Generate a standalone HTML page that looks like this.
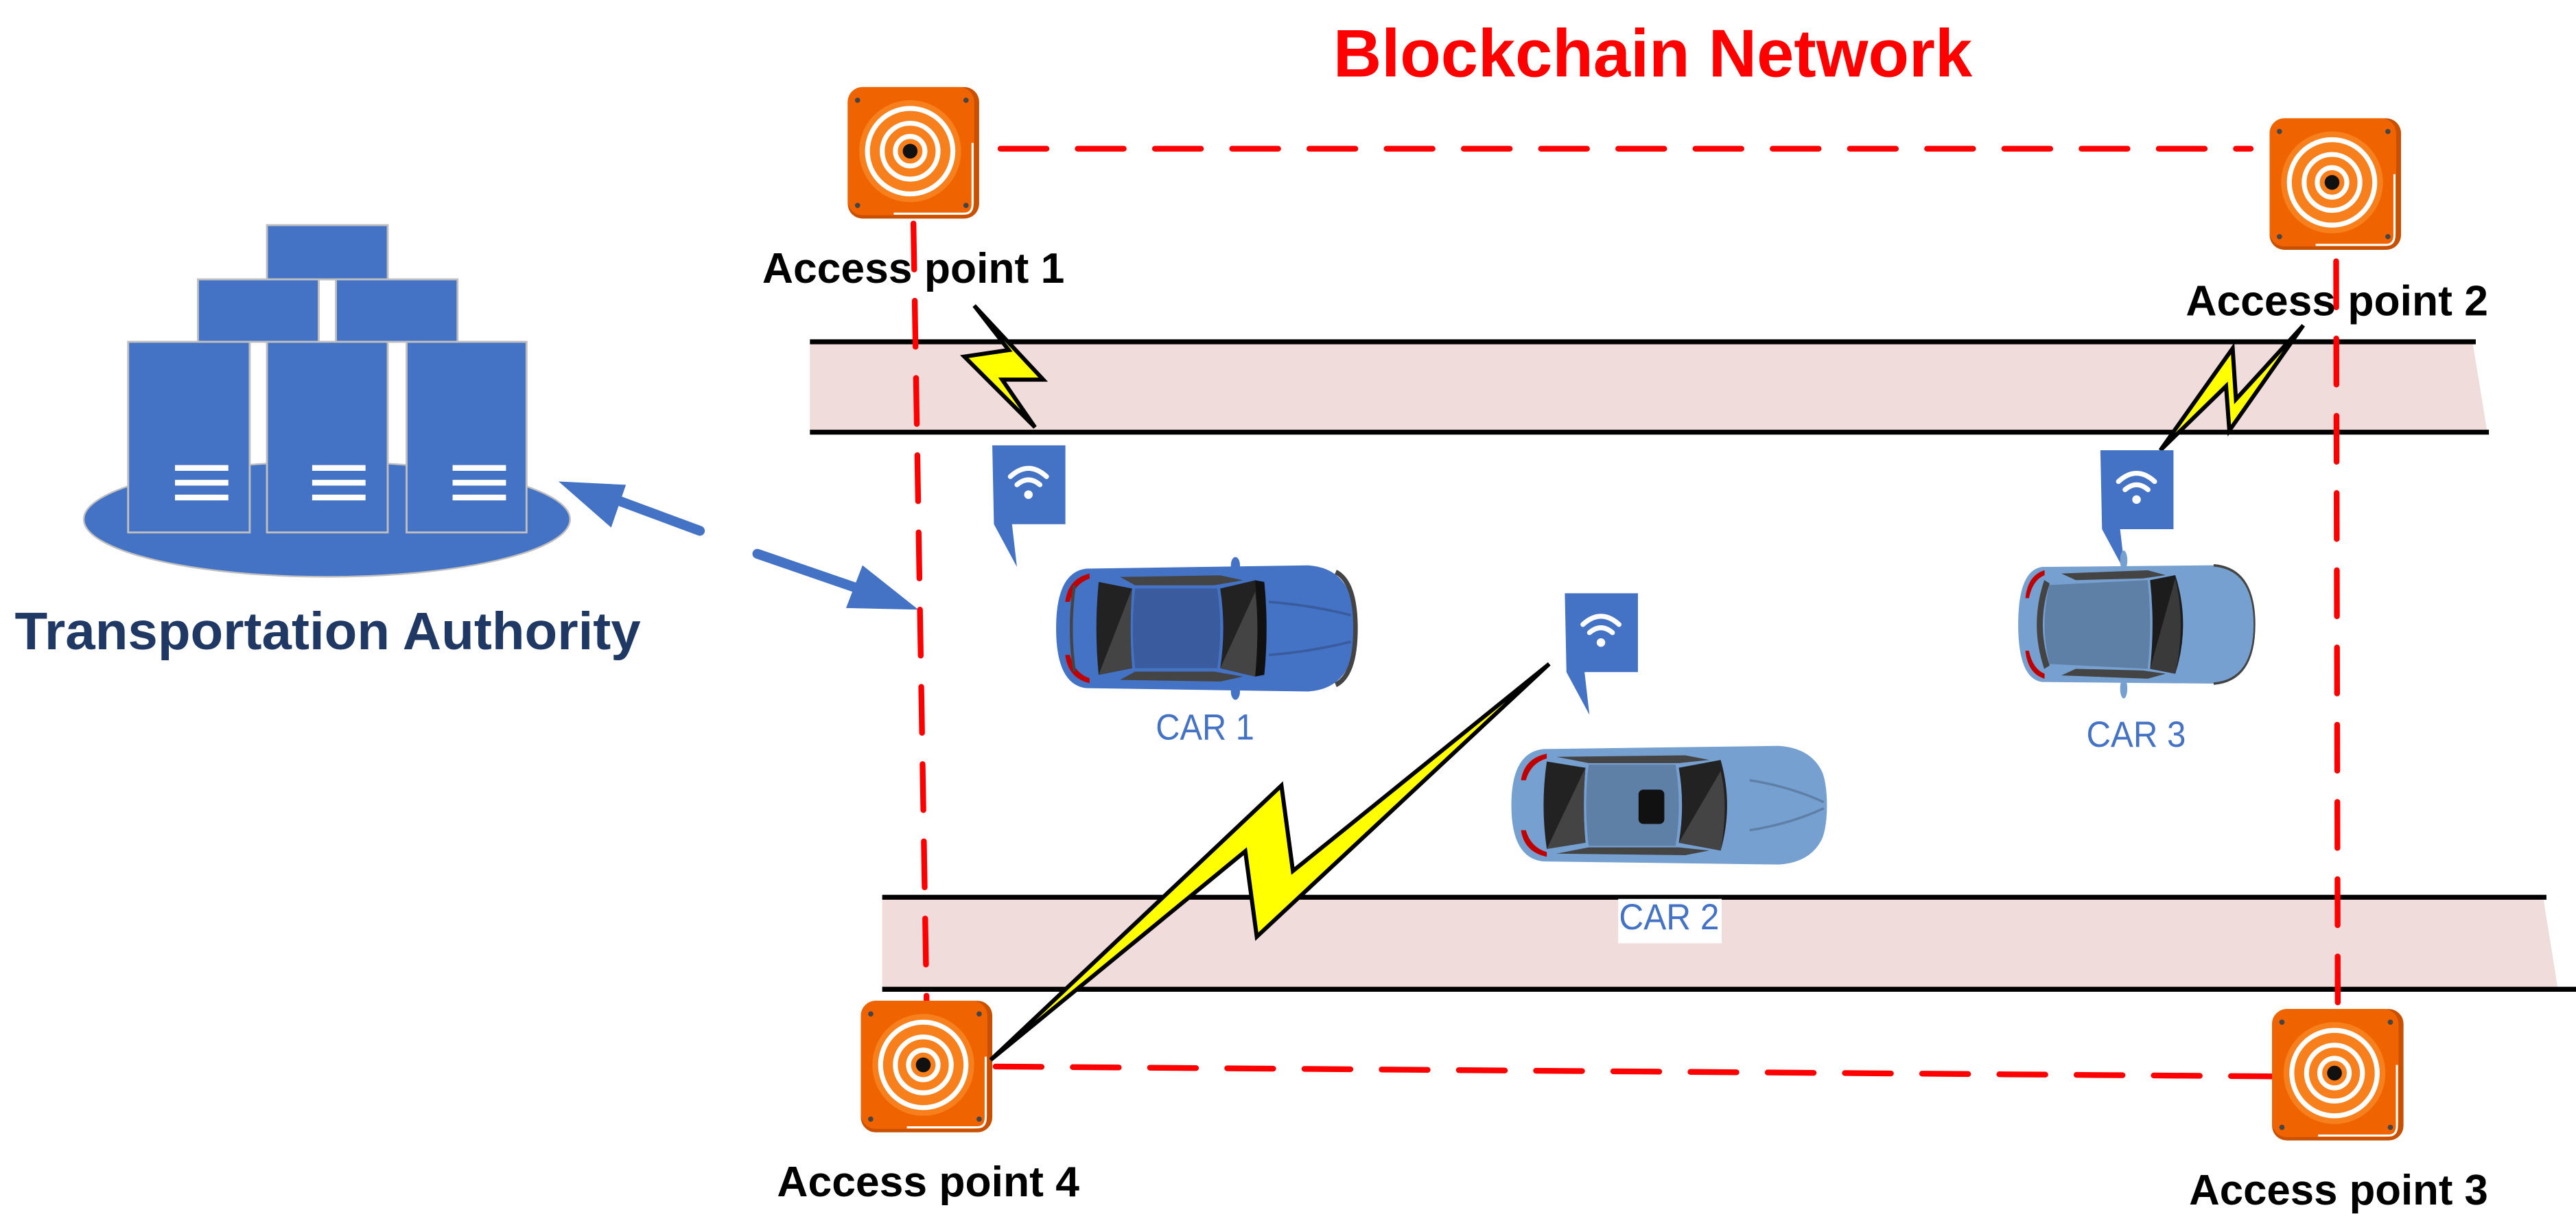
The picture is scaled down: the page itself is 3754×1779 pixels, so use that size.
<!DOCTYPE html>
<html><head><meta charset="utf-8"><style>
html,body{margin:0;padding:0;background:#fff;}
svg{display:block;}
text{font-family:"Liberation Sans",sans-serif;}
</style></head><body>
<svg width="3754" height="1779" viewBox="0 0 1568 743" preserveAspectRatio="none" xmlns="http://www.w3.org/2000/svg">
<!-- roads -->
<polygon points="493,208 1505,208 1514,263 493,263" fill="#f0dcdb"/>
<line x1="493" y1="208" x2="1507" y2="208" stroke="#000" stroke-width="3"/>
<line x1="493" y1="263" x2="1515" y2="263" stroke="#000" stroke-width="3"/>
<polygon points="537,546 1548,546 1557,602 537,602" fill="#f0dcdb"/>
<line x1="537" y1="546" x2="1550" y2="546" stroke="#000" stroke-width="3"/>
<line x1="537" y1="602" x2="1568" y2="602" stroke="#000" stroke-width="3"/>

<!-- red dashed network -->
<g stroke="#ff0000" stroke-width="3.5" stroke-linecap="round" stroke-dasharray="28,19" fill="none">
<line x1="609" y1="90.5" x2="1370" y2="90.5"/>
<line x1="556" y1="136" x2="564" y2="609"/>
<line x1="1422" y1="159" x2="1423" y2="614"/>
<line x1="606" y1="649" x2="1383" y2="655"/>
</g>

<!-- server cluster -->
<ellipse cx="199" cy="316" rx="148" ry="35" fill="#4472c4" stroke="#bfbfbf" stroke-width="1"/>
<g fill="#4472c4" stroke="#bfbfbf" stroke-width="1.2">
<rect x="162.5" y="137" width="73.5" height="33"/>
<rect x="120.5" y="170" width="73.5" height="38"/>
<rect x="204.5" y="170" width="74" height="38"/>
<rect x="78" y="208" width="74" height="116"/>
<rect x="162.5" y="208" width="73.5" height="116"/>
<rect x="247.5" y="208" width="73" height="116"/>
</g>
<g fill="#fff">
<rect x="106.5" y="283" width="32.5" height="3.5"/><rect x="106.5" y="292" width="32.5" height="3.5"/><rect x="106.5" y="301" width="32.5" height="3.5"/>
<rect x="190" y="283" width="32.5" height="3.5"/><rect x="190" y="292" width="32.5" height="3.5"/><rect x="190" y="301" width="32.5" height="3.5"/>
<rect x="275.5" y="283" width="32.5" height="3.5"/><rect x="275.5" y="292" width="32.5" height="3.5"/><rect x="275.5" y="301" width="32.5" height="3.5"/>
</g>
<text x="9" y="395" font-size="32" font-weight="bold" fill="#1f3864" textLength="381" lengthAdjust="spacingAndGlyphs">Transportation Authority</text>

<!-- arrows -->
<g stroke="#4472c4" stroke-width="6" stroke-linecap="round">
<line x1="426" y1="323" x2="372" y2="303"/>
<line x1="461" y1="337" x2="522" y2="358"/>
</g>
<polygon points="340,293 381,295 372,321" fill="#4472c4"/>
<polygon points="559,371 525,344 515,370" fill="#4472c4"/>

<!-- AP icons -->
<g id="ap1" transform="translate(516,53)">
<rect x="0" y="0" width="80" height="80" rx="9" fill="#c85000"/>
<rect x="0" y="0" width="77" height="78" rx="9" fill="#ef6400"/>
<circle cx="38" cy="39" r="31" fill="#f8801c"/>
<circle cx="38" cy="39" r="26" fill="none" stroke="#fff" stroke-width="3"/>
<circle cx="38" cy="39" r="17" fill="none" stroke="#fff" stroke-width="3"/>
<circle cx="38" cy="39" r="9" fill="none" stroke="#fff" stroke-width="3"/>
<circle cx="38" cy="39" r="4.5" fill="#111"/>
<circle cx="6" cy="8" r="1.6" fill="#444"/><circle cx="72" cy="8" r="1.6" fill="#444"/>
<circle cx="6" cy="72" r="1.6" fill="#444"/><circle cx="72" cy="72" r="1.6" fill="#444"/>
<path d="M28,77 L71,77 Q76,77 76,71 L76,34" fill="none" stroke="#fff" stroke-width="1.3"/>
</g>
<use href="#ap1" transform="translate(8,556)"/>
<use href="#ap1" transform="translate(865.5,19)"/>
<use href="#ap1" transform="translate(867,561)"/>

<text x="464" y="172" font-size="26" font-weight="bold" fill="#000" textLength="184" lengthAdjust="spacingAndGlyphs">Access point 1</text>
<text x="1330.5" y="192" font-size="26" font-weight="bold" fill="#000" textLength="184" lengthAdjust="spacingAndGlyphs">Access point 2</text>
<text x="1332.5" y="733" font-size="26" font-weight="bold" fill="#000" textLength="182" lengthAdjust="spacingAndGlyphs">Access point 3</text>
<text x="473" y="728" font-size="26" font-weight="bold" fill="#000" textLength="184" lengthAdjust="spacingAndGlyphs">Access point 4</text>
<text x="811.5" y="46.5" font-size="41" font-weight="bold" fill="#ff0000" textLength="389" lengthAdjust="spacingAndGlyphs">Blockchain Network</text>

<!-- lightning bolts -->
<g stroke="#000" stroke-width="2.5" stroke-linejoin="miter">
<polygon points="593,186 614,213 587,217 630,260 610,231 635,231" fill="#ffff00"/>
<polygon points="1315,274 1359,212 1361,243 1402,198 1357,262 1355,235" fill="#ffff00"/>
<polygon points="603,645 780,478 787,530 943,404 765,570 758,518" fill="#ffff00"/>
</g>

<!-- wifi bubbles -->
<g id="wb1">
<path d="M604,271 H648.5 V319 H616 L619,345 L605,319 Z" fill="#4472c4"/>
<g fill="none" stroke="#fff" stroke-width="3" stroke-linecap="round">
<path d="M615,290 Q626,280 637,290"/>
<path d="M619,295 Q626,289 633,295"/>
</g>
<circle cx="626" cy="301" r="2.6" fill="#fff"/>
</g>
<use href="#wb1" transform="translate(348.5,90)"/>
<use href="#wb1" transform="translate(674.5,3)"/>

<!-- car template -->
<g id="car1" transform="translate(641,342) scale(0.925,1.01)">
<path d="M22,4 L168,2 Q199,4 199,40 Q199,76 168,78 L22,76 Q2,74 2,40 Q2,6 22,4 Z" fill="#4472c4"/>
<path d="M186,6 Q199,12 199,40 Q199,68 186,74" fill="none" stroke="#444" stroke-width="3"/>
<path d="M8,24 Q10,10 24,7 L24,10 Q14,13 11,24 Z" fill="#c00000"/>
<path d="M8,56 Q10,70 24,73 L24,70 Q14,67 11,56 Z" fill="#c00000"/>
<path d="M14,14 Q10,40 14,66" fill="none" stroke="#444" stroke-width="2"/>
<path d="M30,12 L52,16 Q50,40 52,64 L30,68 Q27,40 30,12 Z" fill="#222"/>
<path d="M30,68 L52,16 Q50,40 52,64 Z" fill="#444"/>
<path d="M54,16 L108,16 Q112,40 108,64 L54,64 Q51,40 54,16 Z" fill="#3a5c9e"/>
<path d="M110,16 L133,11 L136,12 Q139,40 136,68 L133,69 L110,64 Q114,40 110,16 Z" fill="#222"/>
<path d="M110,64 L133,18 Q136,40 133,69 Z" fill="#444"/>
<path d="M133,11 L139,12 Q142,40 139,68 L133,69 Q136,40 133,11 Z" fill="#111"/>
<path d="M44,9 L110,8 L125,11 L106,14 L54,14 Z" fill="#444"/>
<path d="M44,71 L110,72 L125,69 L106,66 L54,66 Z" fill="#444"/>
<ellipse cx="120" cy="2" rx="3" ry="5" fill="#4472c4"/>
<ellipse cx="120" cy="78" rx="3" ry="5" fill="#4472c4"/>
<path d="M142,24 Q170,26 196,32 M142,56 Q170,54 196,48" fill="none" stroke="#3a5c9e" stroke-width="1.5"/>
</g>
<!-- car 2 -->
<g transform="translate(918,452) scale(0.98,0.95)">
<path d="M22,4 L168,2 Q199,4 199,40 Q199,76 168,78 L22,76 Q2,74 2,40 Q2,6 22,4 Z" fill="#76a0cf"/>
<path d="M186,6 Q199,12 199,40 Q199,68 186,74" fill="none" stroke="#fff" stroke-width="2"/>
<path d="M8,24 Q10,10 24,7 L24,10 Q14,13 11,24 Z" fill="#c00000"/>
<path d="M8,56 Q10,70 24,73 L24,70 Q14,67 11,56 Z" fill="#c00000"/>
<path d="M24,12 L48,16 Q46,40 48,64 L24,68 Q20,40 24,12 Z" fill="#222"/>
<path d="M24,68 L48,16 Q46,40 48,64 Z" fill="#444"/>
<path d="M50,14 L104,14 Q108,40 104,66 L50,66 Q47,40 50,14 Z" fill="#5e7fa6"/>
<rect x="81" y="30" width="16" height="22" rx="3" fill="#111"/>
<path d="M106,16 L132,11 Q140,40 132,69 L106,64 Q110,40 106,16 Z" fill="#222"/>
<path d="M106,64 L132,18 Q137,40 132,69 Z" fill="#444"/>
<path d="M30,9 L110,8 L125,11 L106,13 L50,13 Z" fill="#444"/>
<path d="M30,71 L110,72 L125,69 L106,67 L50,67 Z" fill="#444"/>
<path d="M150,24 Q175,28 196,38 M150,56 Q175,52 196,42" fill="none" stroke="#5e7fa6" stroke-width="1.5"/>
</g>
<!-- car 3 -->
<g transform="translate(1227,340) scale(0.73,1.0)">
<path d="M22,5 L165,4 Q199,6 199,40 Q199,74 165,76 L22,75 Q2,73 2,40 Q2,7 22,5 Z" fill="#76a0cf"/>
<path d="M165,4 Q199,6 199,40 Q199,74 165,76" fill="none" stroke="#444" stroke-width="1.5"/>
<path d="M8,24 Q10,10 24,7 L24,10 Q14,13 11,24 Z" fill="#c00000"/>
<path d="M8,56 Q10,70 24,73 L24,70 Q14,67 11,56 Z" fill="#c00000"/>
<path d="M26,14 Q14,40 26,66" fill="none" stroke="#444" stroke-width="5"/>
<path d="M28,16 L110,13 Q114,40 110,67 L28,64 Q20,40 28,16 Z" fill="#5e7fa6"/>
<path d="M112,13 L133,10 Q146,40 133,70 L112,67 Q116,40 112,13 Z" fill="#1c1c1c"/>
<path d="M112,67 L133,12 Q142,40 133,70 Z" fill="#3a3a3a"/>
<path d="M38,9 L110,7 L125,10 L106,12 L50,13 Z" fill="#444"/>
<path d="M38,71 L110,73 L125,70 L106,68 L50,67 Z" fill="#444"/>
<ellipse cx="90" cy="1" rx="3" ry="6" fill="#76a0cf"/>
<ellipse cx="90" cy="79" rx="3" ry="6" fill="#76a0cf"/>
</g>

<!-- car labels -->
<text x="703.5" y="450" font-size="22" fill="#4472c4" textLength="60" lengthAdjust="spacingAndGlyphs">CAR 1</text>
<rect x="985" y="547" width="63" height="27" fill="#fff"/>
<text x="985.5" y="565.5" font-size="22" fill="#4472c4" textLength="61" lengthAdjust="spacingAndGlyphs">CAR 2</text>
<text x="1270" y="454.5" font-size="22" fill="#4472c4" textLength="60.5" lengthAdjust="spacingAndGlyphs">CAR 3</text>
</svg>
</body></html>
